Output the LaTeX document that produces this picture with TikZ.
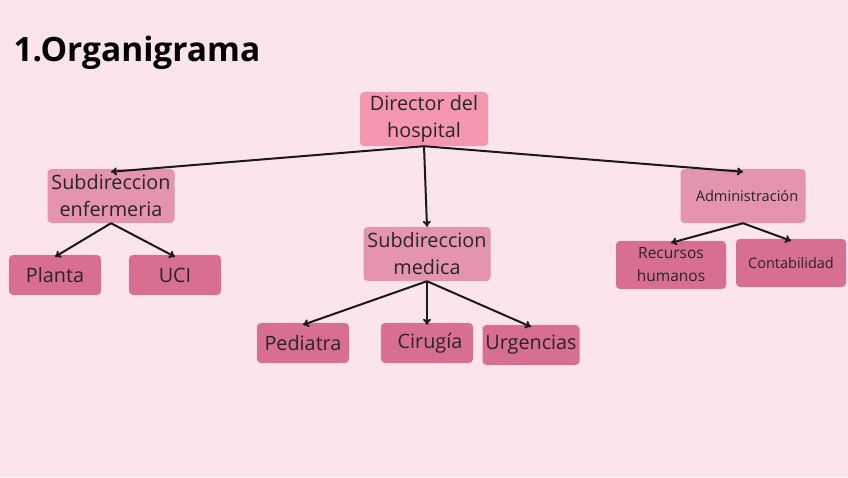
\documentclass[tikz,border=0pt]{standalone}
\usepackage{fontspec}
\setmainfont{Open Sans}
\usepackage{xcolor}
\usetikzlibrary{arrows.meta, positioning}

\definecolor{bgpink}{HTML}{FCE4EC}
\definecolor{toppink}{HTML}{F596B3}
\definecolor{midpink}{HTML}{E494AE}
\definecolor{lowpink}{HTML}{D86F92}

\begin{document}
\begin{tikzpicture}[
  x=1pt, y=-1pt,
  box/.style={rectangle, rounded corners=4pt, align=center, inner sep=0pt,
              text=black!85, font=\fontsize{19.8}{27}\selectfont},
  topbox/.style={box, fill=toppink, minimum width=128pt, minimum height=54pt},
  midbox/.style={box, fill=midpink, minimum width=127pt, minimum height=54pt},
  leafbox/.style={box, fill=lowpink, minimum width=92pt, minimum height=40pt},
  smallbox/.style={box, fill=lowpink, minimum width=110pt, minimum height=48pt,
                   font=\fontsize{15.5}{23}\selectfont},
  arrow/.style={-{To[length=6pt, width=8pt]}, line width=2pt, black!90}
]
\fill[bgpink] (0,0) rectangle (848,477);
\useasboundingbox (0,0) rectangle (848,477);

\node[anchor=base west, font=\fontsize{33.5}{38}\selectfont\bfseries] (title) at (10,61) {1.Organigrama};

% first level
\node[topbox] (dir) at (424,119) {Director del\\hospital};

% second level
\node[midbox] (enf) at (111,196) {Subdireccion\\enfermeria};
\node[midbox] (med) at (427,254) {Subdireccion\\medica};
\node[midbox, minimum width=125pt, font=\fontsize{14.6}{20}\selectfont] (adm) at (743,196) {\hspace*{8pt}Administración};

% third level
\node[leafbox] (planta) at (55,275) {Planta};
\node[leafbox] (uci) at (175,275) {UCI};
\node[leafbox] (ped) at (303,343) {Pediatra};
\node[leafbox] (cir) at (427,343) {\hspace*{6pt}Cirugía};
\node[leafbox, minimum width=97pt] (urg) at (531,345) {Urgencias};
\node[smallbox] (rh) at (671,265) {Recursos\\humanos};
\node[smallbox, font=\fontsize{14.5}{20}\selectfont] (cont) at (791,263) {Contabilidad};

\draw[arrow] (dir.south) -- ([yshift=-3pt]enf.north);
\draw[arrow] (dir.south) -- (med.north);
\draw[arrow] (dir.south) -- ([yshift=-3pt]adm.north);

\draw[arrow] (enf.south) -- ([yshift=-2pt]planta.north);
\draw[arrow] (enf.south) -- ([yshift=-2pt]uci.north);

\draw[arrow] (med.south) -- ([yshift=-2pt]ped.north);
\draw[arrow] (med.south) -- ([yshift=-2pt]cir.north);
\draw[arrow] (med.south) -- ([yshift=-2pt]urg.north);

\draw[arrow] (adm.south) -- ([yshift=-2pt]rh.north);
\draw[arrow] (adm.south) -- ([yshift=-2pt]cont.north);
\end{tikzpicture}
\end{document}
